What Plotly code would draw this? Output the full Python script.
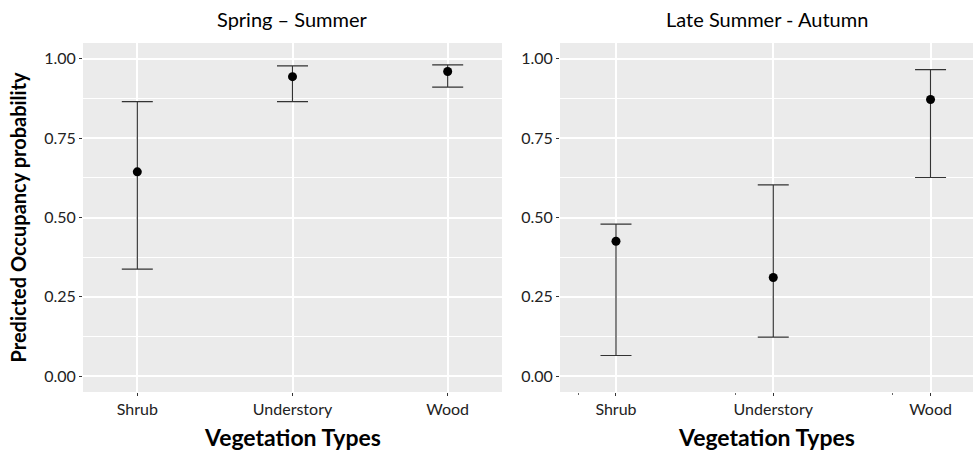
import plotly.graph_objects as go

categories = ["Shrub", "Understory", "Wood"]
y_ticks = [0.0, 0.25, 0.5, 0.75, 1.0]
y_tick_labels = ["0.00", "0.25", "0.50", "0.75", "1.00"]

spring_mean = [0.644, 0.944, 0.960]
spring_upper = [0.865, 0.978, 0.981]
spring_lower = [0.337, 0.865, 0.911]

autumn_mean = [0.425, 0.311, 0.872]
autumn_upper = [0.479, 0.603, 0.966]
autumn_lower = [0.065, 0.123, 0.626]

panel_titles = ["Spring \u2013 Summer", "Late Summer - Autumn"]
x_title = "Vegetation Types"
y_title = "Predicted Occupancy probability"

FONT = "Lato, 'Open Sans', sans-serif"
xs = list(range(len(categories)))

fig = go.Figure()


def add_series(mean, upper, lower, xa, ya):
    fig.add_trace(go.Scatter(
        x=xs, y=mean, mode="markers", xaxis=xa, yaxis=ya,
        marker=dict(color="black", size=9),
        error_y=dict(type="data", symmetric=False,
                     array=[u - m for u, m in zip(upper, mean)],
                     arrayminus=[m - l for m, l in zip(mean, lower)],
                     color="#333333", thickness=1.2, width=15.5),
        showlegend=False, hoverinfo="skip"))


add_series(spring_mean, spring_upper, spring_lower, "x", "y")
add_series(autumn_mean, autumn_upper, autumn_lower, "x2", "y2")

W, H = 973, 455
ml, mr, mt, mb = 83, 0, 43, 63
pw = W - ml - mr
d1 = [0, (502 - ml) / pw]
d2 = [(560 - ml) / pw, 1]

common_x = dict(tickmode="array", tickvals=xs, ticktext=categories,
                showgrid=True, gridcolor="white", gridwidth=1.5,
                zeroline=False, ticks="outside", ticklen=3, tickcolor="#333333",
                tickfont=dict(family=FONT, size=16, color="#222222"),
                showline=False, fixedrange=True)
common_y = dict(tickmode="array", tickvals=y_ticks, ticktext=y_tick_labels,
                range=[-0.05, 1.05],
                showgrid=True, gridcolor="white", gridwidth=1.5,
                minor=dict(showgrid=True, gridcolor="white", gridwidth=0.7,
                           tickmode="array", tickvals=[0.125, 0.375, 0.625, 0.875]),
                zeroline=False, ticks="outside", ticklen=3, tickcolor="#333333",
                tickfont=dict(family=FONT, size=16, color="#222222"),
                showline=False, fixedrange=True)

fig.update_layout(
    width=W, height=H,
    margin=dict(l=ml, r=mr, t=mt, b=mb),
    paper_bgcolor="white", plot_bgcolor="#EBEBEB",
    font=dict(family=FONT, color="#222222"),
    xaxis=dict(domain=d1, range=[-0.35, 2.35], anchor="y", **common_x),
    xaxis2=dict(domain=d2, range=[-0.356, 2.27], anchor="y2",
                minor=dict(ticks="outside", ticklen=2, tickcolor="#666666",
                           tickmode="array", tickvals=[-0.24, 0.76, 1.76], showgrid=False),
                **common_x),
    yaxis=dict(domain=[0, 1], anchor="x", **common_y),
    yaxis2=dict(domain=[0, 1], anchor="x2", **common_y),
)

annotations = []
for title, dom in zip(panel_titles, [d1, d2]):
    cx = (dom[0] + dom[1]) / 2
    annotations.append(dict(text=title, x=cx, y=1, xref="paper", yref="paper",
                            xanchor="center", yanchor="bottom", yshift=10,
                            showarrow=False, font=dict(family=FONT, size=20, color="black")))
    annotations.append(dict(text="<b>" + x_title + "</b>", x=cx, y=0, xref="paper", yref="paper",
                            xanchor="center", yanchor="middle", yshift=-45,
                            showarrow=False, font=dict(family=FONT, size=23, color="black")))
annotations.append(dict(text="<b>" + y_title + "</b>", x=0, y=0.5, xref="paper", yref="paper",
                        xanchor="center", yanchor="middle", xshift=-66, textangle=-90,
                        showarrow=False, font=dict(family=FONT, size=20, color="black")))
fig.update_layout(annotations=annotations)

fig.write_html("out.html", config={"displayModeBar": False},
               post_script="document.body.style.margin='0';")
